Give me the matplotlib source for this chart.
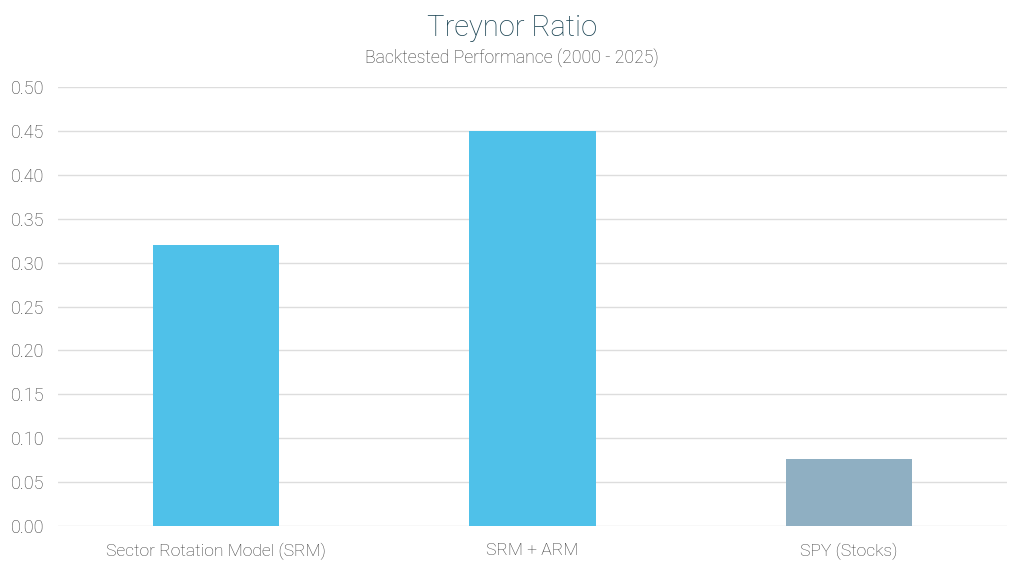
import matplotlib
matplotlib.use("Agg")
import matplotlib.pyplot as plt
from matplotlib.ticker import FormatStrFormatter

categories = ["Sector Rotation Model (SRM)", "SRM + ARM", "SPY (Stocks)"]
values = [0.32, 0.45, 0.076]
colors = ["#4FC1E9", "#4FC1E9", "#8FAFC2"]
yticks = [0.00, 0.05, 0.10, 0.15, 0.20, 0.25, 0.30, 0.35, 0.40, 0.45, 0.50]

plt.rcParams['font.family'] = ['Roboto', 'DejaVu Sans']

fig = plt.figure(figsize=(10.24, 5.69), dpi=100)
ax = fig.add_axes([58/1024, 1 - 526/569, (1007-58)/1024, (526-87)/569])

x = list(range(len(categories)))
ax.bar(x, values, width=0.4, color=colors, zorder=3)
ax.set_xlim(-0.5, len(categories) - 0.5)
ax.set_ylim(0, 0.5)
ax.set_yticks(yticks)
ax.yaxis.set_major_formatter(FormatStrFormatter('%.2f'))
ax.set_xticks(x)
ax.set_xticklabels(categories)
ax.grid(axis='y', color='#DDDDDD', linewidth=1, zorder=0)
ax.set_axisbelow(True)
for s in ax.spines.values():
    s.set_visible(False)
ax.tick_params(axis='y', length=0, labelsize=13, labelcolor='#3A3A3A', pad=10)
ax.tick_params(axis='x', length=0, labelsize=12.6, labelcolor='#3A3A3A', pad=12)
for lbl in ax.get_xticklabels() + ax.get_yticklabels():
    lbl.set_fontweight('light')

fig.text(0.5, 1 - 28/569, "Treynor Ratio", ha='center', va='center',
         fontsize=21, color='#1A4352', fontweight='light')
fig.text(0.5, 1 - 58/569, "Backtested Performance (2000 - 2025)", ha='center', va='center',
         fontsize=12.7, color='#3A3A3A', fontweight='light')

fig.savefig("out.png", dpi=100)
